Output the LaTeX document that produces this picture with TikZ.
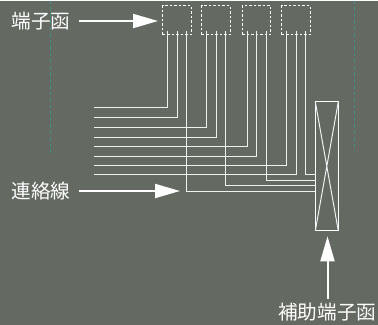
\documentclass[tikz,border=0pt]{standalone}
\usepackage{fontspec}
\newfontfamily\cjk{Noto Sans CJK JP}
\usetikzlibrary{arrows.meta}
\definecolor{panel}{HTML}{646A62}
\definecolor{guide}{HTML}{3F8F85}
\tikzset{
  >=latex,
  label text/.style = {text = white, font = \cjk\fontsize{19.6}{19.6}\selectfont, inner sep = 0},
  terminal/.style = {draw = white, dashed, dash pattern = on 2.5pt off 2pt, line width = 1pt,
                  minimum width = 28.5pt, minimum height = 29pt, inner sep = 0, outer sep = 0},
  auxbox/.style = {draw = white, line width = 1pt, minimum width = 23pt,
                  minimum height = 129pt, inner sep = 0, outer sep = 0},
  wire/.style = {draw = white!90!panel, line width = 1pt},
  pointer/.style = {draw = white, line width = 2pt, -{Triangle[length = 25pt, width = 14pt]}},
  guideline/.style = {draw = guide, line width = 1pt, dash pattern = on 3.5pt off 3pt},
}
\begin{document}
\begin{tikzpicture}[x=1pt,y=-1pt]
\fill[panel] (0,0) rectangle (378,324);
\draw[guideline] (50.5,0) -- (50.5,152);
\draw[guideline] (354,0) -- (354,150);
% terminal boxes
\foreach \n/\x in {1/177,2/216,3/256.5,4/296.2}
  \node[terminal] (box\n) at (\x,19.8) {};
\node[auxbox] (aux) at (326.8,165.8) {};
\draw[wire] (aux.north west) -- (aux.south east) (aux.north east) -- (aux.south west);
% pins under the terminal boxes
\foreach \n/\x in {a/167.3,b/177,c/186.5,d/206.3,e/216,f/225.7,g/247,h/256.7,i/266.2,j/286.7,k/296.5,l/305.7}
  \coordinate (pin\n) at (\x,30);
% free ends on the left
\foreach \n/\y in {a/107.3,b/117.3,d/127,e/137,g/146,h/156,j/165,k/174.3}
  \coordinate (end\n) at (93.5,\y);
\foreach \n in {a,b,d,e,g,h,j,k}
  \draw[wire] (pin\n) |- (end\n);
% wires into the auxiliary box
\foreach \n/\y in {l/174.3,i/179.7,f/185.3,c/191}
{
  \coordinate (aux\n) at (aux.west |- 0,\y);
  \draw[wire] (pin\n) |- (aux\n);
}
% labels and pointers
\node[label text,anchor=west] (term) at (11.5,20.5) {端子函};
\node[label text,anchor=west] (link) at (11.5,190.5) {連絡線};
\node[label text,anchor=east] (sub) at (376.5,312) {補助端子函};
\coordinate (linktip) at (180,190);
\coordinate (subtail) at (327.5,298);
\draw[pointer,shorten >=4.7pt] (term.east) ++(8,0) coordinate (termtail) -- (termtail -| box1.west);
\draw[pointer] (link.east) ++(8,0) coordinate (linktail) -- (linktail -| linktip);
\draw[pointer,shorten >=5.5pt] (subtail) -- (subtail |- aux.south);
\end{tikzpicture}
\end{document}
